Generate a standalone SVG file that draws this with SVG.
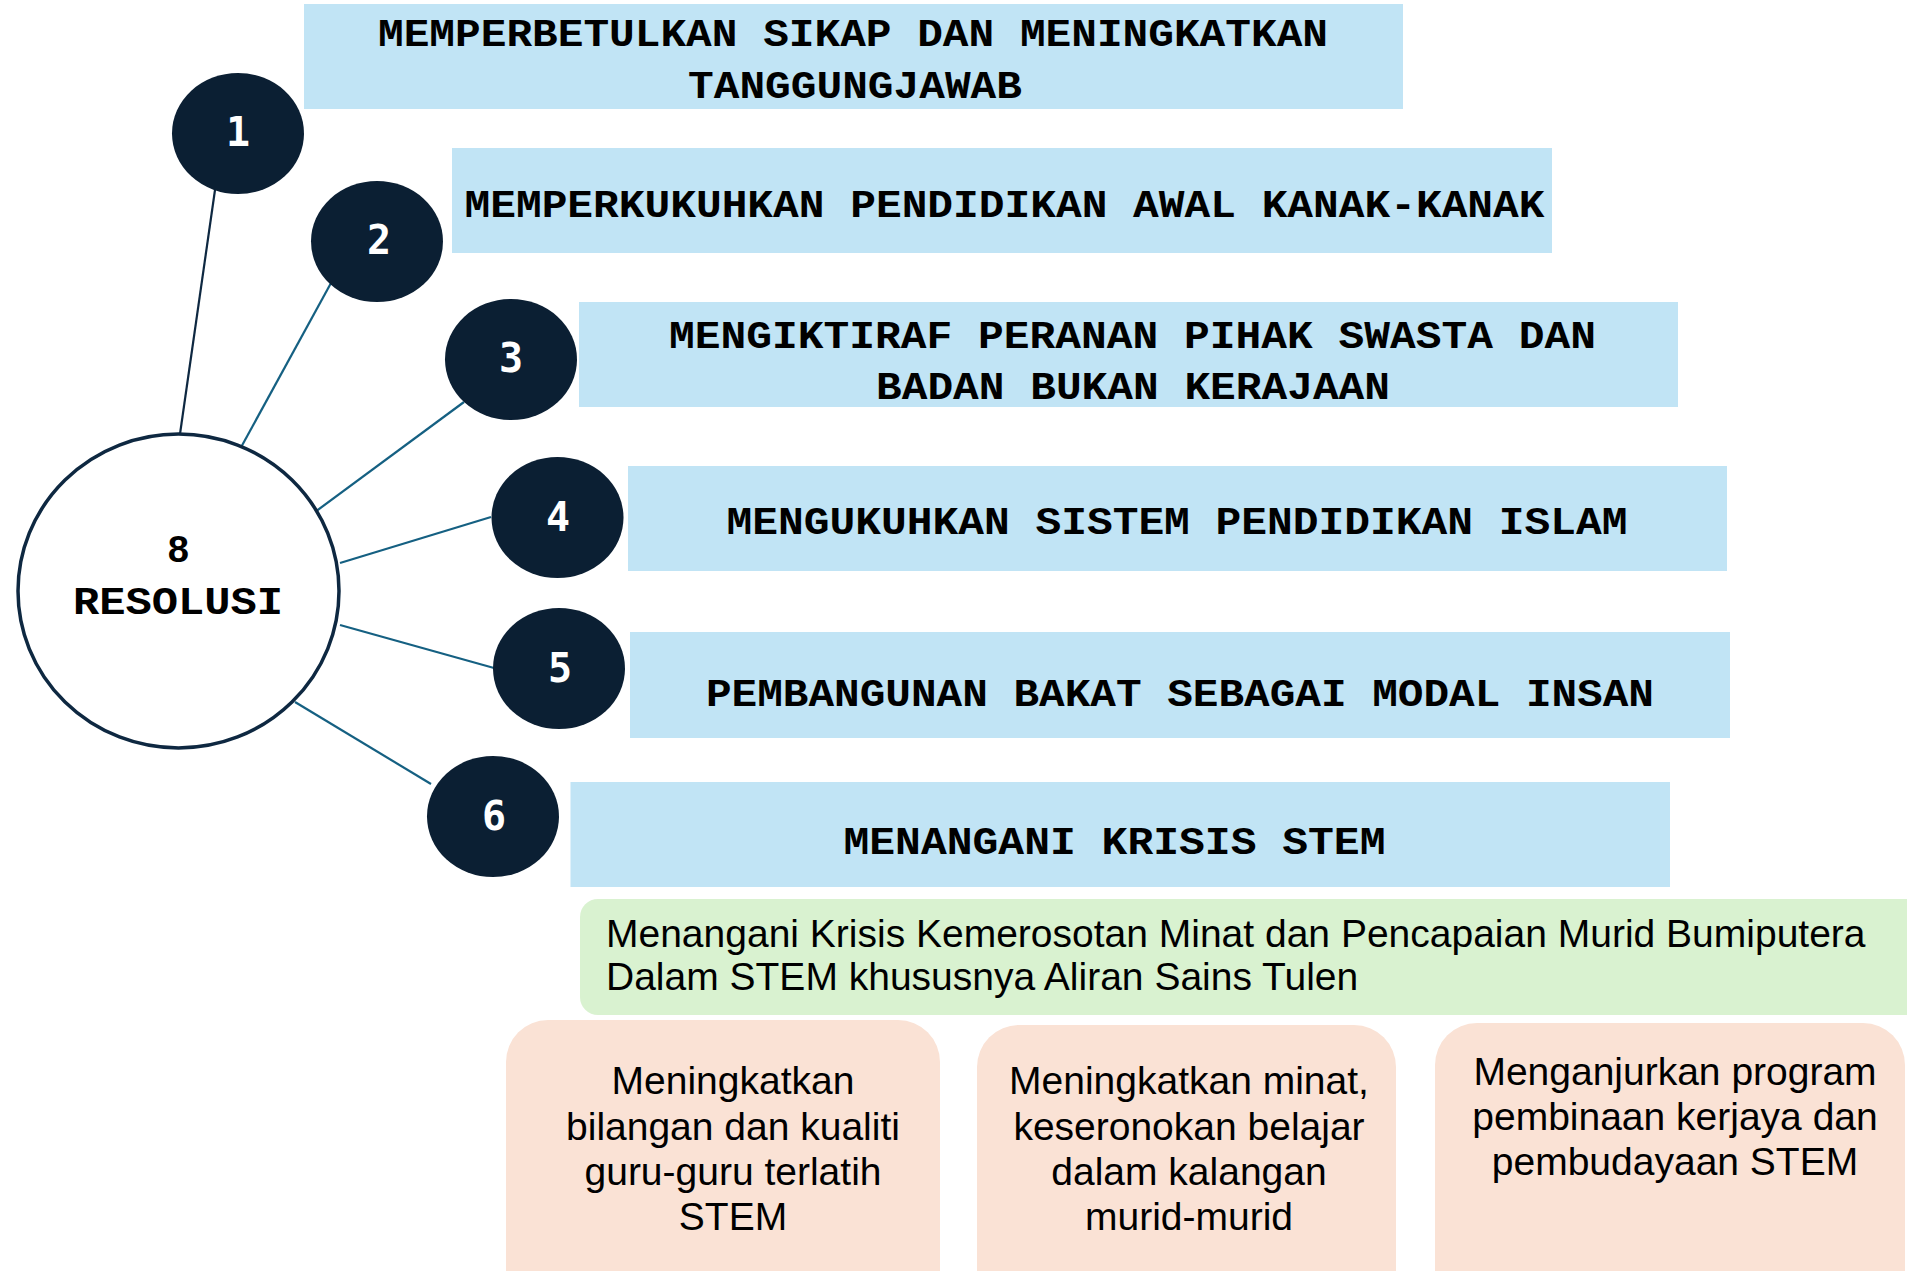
<svg xmlns="http://www.w3.org/2000/svg" width="1907" height="1271" viewBox="0 0 1907 1271">
<style>
.bar{fill:#c1e4f5}
.t{font-family:"Courier New","Liberation Mono",monospace;font-weight:bold;font-size:38px;fill:#000}
.dot{fill:#0b1f33}
.num{font-family:"DejaVu Sans Mono",monospace;font-weight:bold;font-size:40px;fill:#fff;text-anchor:middle}
.ln{stroke:#156082;stroke-width:2.2;fill:none}
.s{font-family:"Liberation Sans",Arial,sans-serif;font-size:39px;fill:#000}
.c{text-anchor:middle}
.pink{fill:#fae2d5}
</style>
<rect width="1907" height="1271" fill="#fff"/>
<g id="connectors">
<line x1="216" y1="183" x2="180" y2="434" stroke="#0e2841" stroke-width="2.2"/>
<line class="ln" x1="331" y1="283" x2="239" y2="451"/>
<line class="ln" x1="464" y1="402" x2="315" y2="512"/>
<line class="ln" x1="491" y1="517" x2="340" y2="563"/>
<line class="ln" x1="340" y1="625" x2="494" y2="668"/>
<line class="ln" x1="295" y1="702" x2="431" y2="784"/>
</g>
<g id="center">
<ellipse cx="178.5" cy="591" rx="160.5" ry="157" fill="#fff" stroke="#0e2841" stroke-width="3.5"/>
<text class="t c" x="178.5" y="562">8</text>
<text class="t" x="73" y="614" textLength="210" lengthAdjust="spacingAndGlyphs">RESOLUSI</text>
</g>
<g id="item1">
<rect class="bar" x="304" y="4" width="1099" height="105"/>
<text class="t" x="378" y="46" textLength="950" lengthAdjust="spacingAndGlyphs">MEMPERBETULKAN SIKAP DAN MENINGKATKAN</text>
<text class="t" x="688" y="98" textLength="334" lengthAdjust="spacingAndGlyphs">TANGGUNGJAWAB</text>
<ellipse class="dot" cx="238" cy="133.5" rx="66" ry="60.5"/>
<text class="num" x="238" y="146">1</text>
</g>
<g id="item2">
<rect class="bar" x="452" y="148" width="1100" height="105"/>
<text class="t" x="464.5" y="217" textLength="1080" lengthAdjust="spacingAndGlyphs">MEMPERKUKUHKAN PENDIDIKAN AWAL KANAK-KANAK</text>
<ellipse class="dot" cx="377" cy="241.5" rx="66" ry="60.5"/>
<text class="num" x="379" y="254">2</text>
</g>
<g id="item3">
<rect class="bar" x="579" y="302" width="1099" height="105"/>
<text class="t" x="669" y="348" textLength="927" lengthAdjust="spacingAndGlyphs">MENGIKTIRAF PERANAN PIHAK SWASTA DAN</text>
<text class="t" x="876" y="399" textLength="514" lengthAdjust="spacingAndGlyphs">BADAN BUKAN KERAJAAN</text>
<ellipse class="dot" cx="511" cy="359.5" rx="66" ry="60.5"/>
<text class="num" x="511" y="372">3</text>
</g>
<g id="item4">
<rect class="bar" x="628" y="466" width="1099" height="105"/>
<text class="t" x="726.5" y="534" textLength="901" lengthAdjust="spacingAndGlyphs">MENGUKUHKAN SISTEM PENDIDIKAN ISLAM</text>
<ellipse class="dot" cx="557.5" cy="517.5" rx="66" ry="60.5"/>
<text class="num" x="558" y="531">4</text>
</g>
<g id="item5">
<rect class="bar" x="630" y="632" width="1100" height="106"/>
<text class="t" x="706" y="706" textLength="948" lengthAdjust="spacingAndGlyphs">PEMBANGUNAN BAKAT SEBAGAI MODAL INSAN</text>
<ellipse class="dot" cx="559" cy="668.5" rx="66" ry="60.5"/>
<text class="num" x="560" y="682">5</text>
</g>
<g id="item6">
<rect class="bar" x="570.5" y="782" width="1099.5" height="105"/>
<text class="t" x="843.5" y="854" textLength="542" lengthAdjust="spacingAndGlyphs">MENANGANI KRISIS STEM</text>
<ellipse class="dot" cx="493" cy="816.5" rx="66" ry="60.5"/>
<text class="num" x="494" y="830">6</text>
</g>
<g id="stem-summary">
<rect x="580" y="899" width="1360" height="116" rx="18" fill="#d9f2d0"/>
<text class="s" x="606" y="947">Menangani Krisis Kemerosotan Minat dan Pencapaian Murid Bumiputera</text>
<text class="s" x="606" y="990">Dalam STEM khususnya Aliran Sains Tulen</text>
</g>
<g id="stem-a">
<rect class="pink" x="506" y="1020" width="434" height="300" rx="42"/>
<text class="s c" x="733" y="1094">Meningkatkan</text>
<text class="s c" x="733" y="1139.5">bilangan dan kualiti</text>
<text class="s c" x="733" y="1185">guru-guru terlatih</text>
<text class="s c" x="733" y="1230">STEM</text>
</g>
<g id="stem-b">
<rect class="pink" x="977" y="1025" width="419" height="300" rx="42"/>
<text class="s c" x="1189" y="1094">Meningkatkan minat,</text>
<text class="s c" x="1189" y="1139.5">keseronokan belajar</text>
<text class="s c" x="1189" y="1185">dalam kalangan</text>
<text class="s c" x="1189" y="1230">murid-murid</text>
</g>
<g id="stem-c">
<rect class="pink" x="1435" y="1023" width="470" height="300" rx="42"/>
<text class="s c" x="1675" y="1085">Menganjurkan program</text>
<text class="s c" x="1675" y="1130">pembinaan kerjaya dan</text>
<text class="s c" x="1675" y="1175">pembudayaan STEM</text>
</g>
</svg>
